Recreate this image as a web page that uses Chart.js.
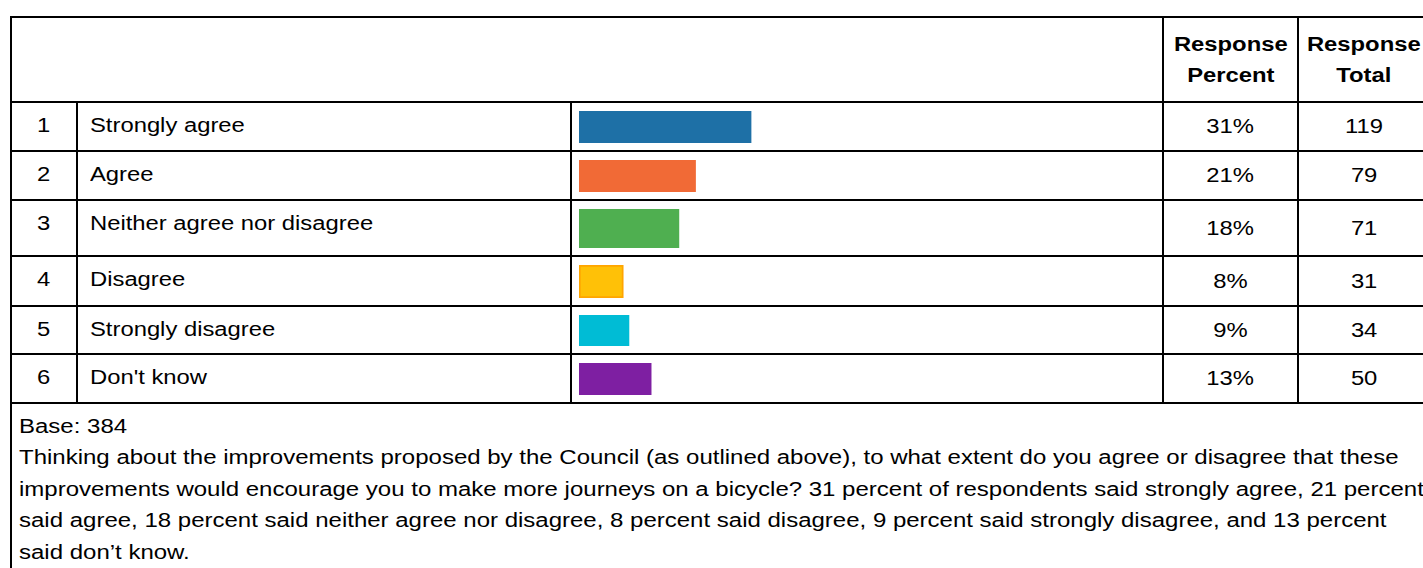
<!DOCTYPE html>
<html lang="en">
<head>
    <meta charset="UTF-8">
    <title>Response summary</title>
    <script src="https://cdn.jsdelivr.net/npm/chart.js"></script>
    <style>
        html, body {
            margin: 0;
            padding: 0;
            background: #fff;
            width: 1423px;
            height: 568px;
            overflow: hidden;
        }

        body {
            font-family: "Liberation Sans", Arial, sans-serif;
            font-size: 20px;
            color: #000;
            position: relative;
        }

        .grid {
            position: absolute;
            left: 10px;
            top: 16px;
            display: grid;
            grid-template-columns: 64px 492px 590px 133px 130px;
            grid-template-rows: 83px 47px 47px 54px 48px 46px 47px 170px;
            gap: 2px;
            padding: 2px;
            background: #000;
        }

        .grid > div {
            background: #fff;
            position: relative;
        }

        /* text in the source is a little wider than Arial, so stretch it */
        .sx {
            display: inline-block;
            transform: scaleX(1.19);
            white-space: nowrap;
        }

        .head {
            display: flex;
            align-items: center;
            justify-content: center;
            text-align: center;
            font-weight: bold;
            line-height: 31px;
        }

        .num {
            text-align: center;
            line-height: 20px;
            padding-top: 12px;
        }

        .label {
            line-height: 20px;
            padding-top: 12px;
            padding-left: 12px;
        }

        .label .sx {
            transform-origin: left center;
        }

        .val {
            display: flex;
            align-items: center;
            justify-content: center;
        }

        .bar-wrap {
            position: absolute;
            inset: 0;
        }

        .foot {
            grid-column: 1 / 6;
            padding: 7px 0 0 7px;
            line-height: 31.4px;
        }

        .foot .sx {
            transform: scaleX(1.2);
            transform-origin: left top;
        }
    </style>
</head>
<body>
    <div class="grid" id="grid"></div>

    <script>
        // answers and counts
        const rowNumbers = ['1', '2', '3', '4', '5', '6'];
        const answers = ['Strongly agree', 'Agree', 'Neither agree nor disagree', 'Disagree', 'Strongly disagree', "Don't know"];
        const percents = [31, 21, 18, 8, 9, 13];
        const totals = [119, 79, 71, 31, 34, 50];
        const base = 384;

        const barColors = ['#1e70a6', '#f16a36', '#4faf50', '#ffc107', '#00bcd5', '#7e1fa2'];
        const barBorders = ['#1e70a6', '#f16a36', '#4faf50', '#ffa500', '#00bcd5', '#7e1fa2'];
        const barBorderWidths = [0, 0, 0, 2, 0, 0];

        const questionLines = [
            'Thinking about the improvements proposed by the Council (as outlined above), to what extent do you agree or disagree that these',
            'improvements would encourage you to make more journeys on a bicycle? 31 percent of respondents said strongly agree, 21 percent',
            'said agree, 18 percent said neither agree nor disagree, 8 percent said disagree, 9 percent said strongly disagree, and 13 percent',
            'said don\u2019t know.'
        ];

        const grid = document.getElementById('grid');

        function cell(cls, html) {
            const d = document.createElement('div');
            if (cls) d.className = cls;
            if (html !== undefined) d.innerHTML = html;
            grid.appendChild(d);
            return d;
        }

        // header row
        const blank = cell('');
        blank.style.gridColumn = '1 / 4';
        cell('head', '<span class="sx">Response<br>Percent</span>');
        cell('head', '<span class="sx">Response<br>Total</span>');

        // one row per answer, each bar is its own small horizontal bar chart
        answers.forEach((answer, i) => {
            cell('num', `<span class="sx">${rowNumbers[i]}</span>`);
            cell('label', `<span class="sx">${answer}</span>`);
            const barCell = cell('');
            const wrap = document.createElement('div');
            wrap.className = 'bar-wrap';
            const canvas = document.createElement('canvas');
            wrap.appendChild(canvas);
            barCell.appendChild(wrap);
            cell('val', `<span class="sx">${percents[i]}%</span>`);
            cell('val', `<span class="sx">${totals[i]}</span>`);

            new Chart(canvas, {
                type: 'bar',
                data: {
                    labels: [answer],
                    datasets: [{
                        data: [percents[i]],
                        backgroundColor: barColors[i],
                        borderColor: barBorders[i],
                        borderWidth: barBorderWidths[i],
                        borderSkipped: false,
                        barPercentage: 1,
                        categoryPercentage: 1
                    }]
                },
                options: {
                    indexAxis: 'y',
                    responsive: true,
                    maintainAspectRatio: false,
                    animation: false,
                    layout: {
                        padding: { left: 7, right: 28, top: 8, bottom: 7 }
                    },
                    scales: {
                        x: { display: false, min: 0, max: 100 },
                        y: { display: false }
                    },
                    plugins: {
                        legend: { display: false },
                        tooltip: { enabled: false }
                    }
                }
            });
        });

        // base and question text
        cell('foot', `<span class="sx">Base: ${base}<br>${questionLines.join('<br>')}</span>`);
    </script>
</body>
</html>
